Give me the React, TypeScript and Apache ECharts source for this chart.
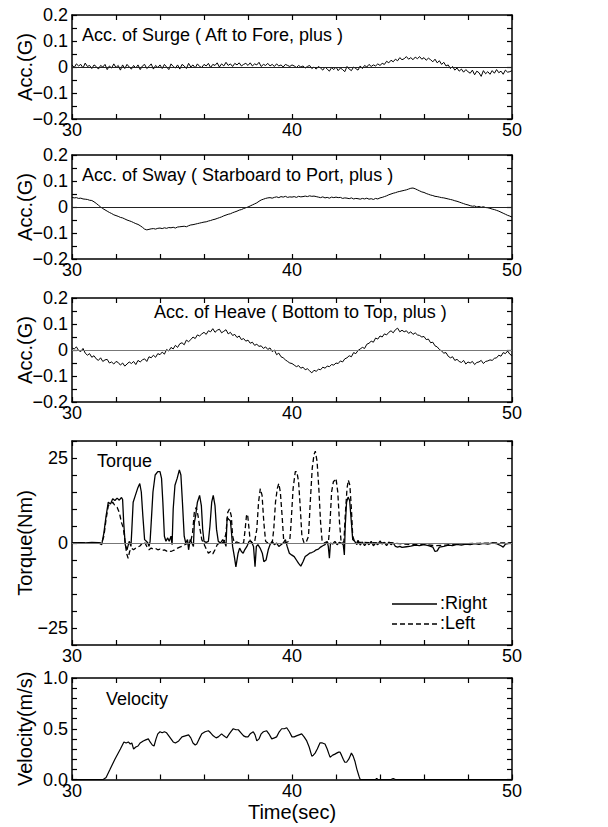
import React, { useEffect, useRef } from "react";
import * as echarts from "echarts";

// ---------- data ----------
const T_START = 30;
const T_STEP = 0.1;

const surge = [
  0.008, -0.002, 0.012, 0.004, 0.010, -0.004, 0.015, 0.002, 0.006, -0.006, 0.008,
  0.002, -0.008, 0.006, 0.000, 0.010, -0.010, 0.004, -0.004, 0.012, -0.002,
  0.006, -0.012, 0.008, -0.006, 0.010, 0.000, -0.008, 0.006, -0.004, 0.008,
  -0.010, 0.004, 0.010, -0.006, 0.002, 0.012, -0.008, 0.006, -0.002, 0.008,
  -0.006, 0.010, 0.000, -0.010, 0.012, 0.002, -0.004, 0.008, -0.008, 0.010,
  0.004, -0.006, 0.014, 0.000, 0.008, -0.004, 0.012, 0.002, -0.002, 0.010,
  0.004, 0.014, -0.002, 0.010, 0.006, 0.016, 0.000, 0.012, 0.004, 0.018,
  0.006, 0.012, 0.002, 0.014, 0.008, 0.016, 0.004, 0.010, 0.014, 0.006,
  0.016, 0.004, 0.012, 0.008, 0.018, 0.002, 0.010, 0.006, 0.014, 0.004,
  0.010, 0.002, 0.012, 0.004, 0.008, 0.000, 0.010, 0.006, 0.002, 0.008,
  0.004, -0.002, 0.006, 0.000, 0.004, -0.004, 0.002, 0.006, -0.006, 0.000,
  -0.008, 0.002, -0.004, -0.012, 0.000, -0.008, -0.016, -0.002, -0.010, 0.000,
  -0.014, -0.004, -0.010, -0.018, 0.002, -0.008, -0.014, 0.000, -0.006, -0.012,
  0.004, -0.006, 0.006, 0.000, 0.010, 0.002, 0.008, 0.004, 0.012, 0.006,
  0.014, 0.010, 0.022, 0.016, 0.026, 0.020, 0.030, 0.024, 0.036, 0.028,
  0.032, 0.040, 0.030, 0.036, 0.028, 0.038, 0.032, 0.040, 0.030, 0.036,
  0.026, 0.034, 0.028, 0.020, 0.030, 0.016, 0.024, 0.010, 0.018, 0.004,
  0.008, -0.006, 0.002, -0.012, -0.004, -0.016, -0.008, -0.020, -0.010, -0.018,
  -0.024, -0.012, -0.030, -0.016, -0.022, -0.036, -0.014, -0.026, -0.018, -0.028,
  -0.014, -0.024, -0.010, -0.022, -0.016, -0.028, -0.012, -0.020, -0.018, -0.014,
];

const sway = [
  0.037, 0.035, 0.036, 0.033, 0.034, 0.031, 0.030, 0.029, 0.026, 0.025, 0.020,
  0.014, 0.007, 0.000, -0.006, -0.011, -0.016, -0.021, -0.025, -0.030, -0.033,
  -0.036, -0.040, -0.042, -0.046, -0.050, -0.053, -0.056, -0.060, -0.064, -0.067,
  -0.072, -0.078, -0.085, -0.088, -0.086, -0.084, -0.083, -0.085, -0.082, -0.081,
  -0.083, -0.080, -0.082, -0.079, -0.080, -0.078, -0.081, -0.077, -0.076, -0.075,
  -0.074, -0.076, -0.072, -0.069, -0.068, -0.066, -0.064, -0.062, -0.060, -0.058,
  -0.057, -0.054, -0.052, -0.049, -0.047, -0.044, -0.041, -0.038, -0.034, -0.031,
  -0.028, -0.026, -0.022, -0.019, -0.016, -0.012, -0.010, -0.006, -0.003, 0.000,
  0.004, 0.008, 0.012, 0.016, 0.022, 0.027, 0.030, 0.033, 0.035, 0.036,
  0.034, 0.037, 0.039, 0.036, 0.040, 0.038, 0.041, 0.037, 0.039, 0.038,
  0.040, 0.037, 0.041, 0.039, 0.040, 0.042, 0.040, 0.043, 0.041, 0.042,
  0.040, 0.038, 0.036, 0.039, 0.035, 0.037, 0.034, 0.038, 0.036, 0.038,
  0.036, 0.037, 0.033, 0.035, 0.034, 0.032, 0.035, 0.031, 0.033, 0.032,
  0.030, 0.033, 0.031, 0.034, 0.030, 0.032, 0.029, 0.033, 0.031, 0.035,
  0.037, 0.040, 0.043, 0.047, 0.050, 0.053, 0.055, 0.058, 0.060, 0.062,
  0.064, 0.066, 0.069, 0.072, 0.073, 0.070, 0.066, 0.062, 0.058, 0.056,
  0.052, 0.049, 0.046, 0.044, 0.041, 0.040, 0.038, 0.036, 0.035, 0.033,
  0.031, 0.029, 0.027, 0.024, 0.022, 0.019, 0.016, 0.013, 0.010, 0.008,
  0.005, 0.003, 0.004, 0.000, 0.002, -0.001, 0.001, -0.002, -0.003, -0.005,
  -0.008, -0.010, -0.013, -0.016, -0.020, -0.024, -0.028, -0.032, -0.035, -0.039,
];

const heave = [
  0.008, 0.004, 0.012, -0.002, -0.006, 0.006, -0.012, -0.020, -0.014, -0.028, -0.022,
  -0.034, -0.040, -0.030, -0.044, -0.038, -0.036, -0.050, -0.046, -0.054, -0.044,
  -0.048, -0.058, -0.050, -0.062, -0.054, -0.046, -0.052, -0.044, -0.056, -0.040,
  -0.046, -0.038, -0.034, -0.044, -0.026, -0.030, -0.020, -0.028, -0.014, -0.018,
  -0.008, -0.016, 0.002, -0.004, 0.010, 0.004, 0.018, 0.010, 0.024, 0.028,
  0.020, 0.038, 0.032, 0.040, 0.050, 0.044, 0.058, 0.054, 0.062, 0.068,
  0.060, 0.074, 0.070, 0.082, 0.068, 0.076, 0.080, 0.066, 0.072, 0.078,
  0.062, 0.068, 0.056, 0.060, 0.048, 0.054, 0.040, 0.044, 0.034, 0.038,
  0.026, 0.030, 0.018, 0.022, 0.014, 0.016, 0.006, 0.012, 0.002, 0.008,
  -0.006, 0.000, -0.018, -0.012, -0.026, -0.030, -0.038, -0.044, -0.050, -0.052,
  -0.058, -0.064, -0.060, -0.070, -0.066, -0.076, -0.072, -0.080, -0.088, -0.078,
  -0.082, -0.074, -0.076, -0.066, -0.070, -0.062, -0.064, -0.056, -0.058, -0.050,
  -0.052, -0.042, -0.046, -0.034, -0.030, -0.022, -0.026, -0.010, -0.014, -0.002,
  0.004, 0.010, 0.006, 0.022, 0.026, 0.034, 0.030, 0.046, 0.042, 0.054,
  0.050, 0.062, 0.058, 0.068, 0.074, 0.066, 0.078, 0.084, 0.070, 0.076,
  0.070, 0.074, 0.064, 0.070, 0.060, 0.066, 0.058, 0.056, 0.050, 0.052,
  0.040, 0.042, 0.028, 0.030, 0.016, 0.012, 0.002, -0.004, -0.012, -0.010,
  -0.024, -0.030, -0.026, -0.040, -0.036, -0.044, -0.048, -0.040, -0.054, -0.046,
  -0.050, -0.044, -0.056, -0.048, -0.046, -0.040, -0.052, -0.044, -0.042, -0.038,
  -0.040, -0.032, -0.030, -0.020, -0.024, -0.010, -0.014, -0.004, -0.016, -0.022,
];

const torqueRight: [number, number][] = [
  [30, 0], [30.3, 0.1], [30.6, 0], [30.9, 0.2], [31.2, 0.1], [31.35, -0.5], [31.45, 3], [31.55, 8], [31.65, 12],
  [31.75, 11.5], [31.85, 13], [31.95, 12.5], [32.05, 13.2], [32.15, 12.6], [32.25, 13.4], [32.3, 12.8], [32.35, 6],
  [32.42, -0.5], [32.5, -2], [32.6, 0.5], [32.68, -1], [32.72, 4], [32.78, 12], [32.88, 14], [32.98, 16], [33.08, 17.5],
  [33.15, 15], [33.22, 8], [33.3, 1], [33.38, 0.5], [33.45, 0], [33.5, -1], [33.55, 0.5], [33.6, 6], [33.68, 15],
  [33.78, 20], [33.9, 21], [34.0, 21], [34.07, 19], [34.13, 12], [34.2, 2], [34.27, 0.5], [34.35, 1.5], [34.42, 0.5],
  [34.5, 2], [34.55, -0.5], [34.6, 10], [34.68, 17], [34.78, 19], [34.88, 21.5], [34.95, 20], [35.02, 12], [35.1, 2],
  [35.17, 0], [35.25, 1], [35.3, -2], [35.37, 1], [35.45, 0], [35.52, -1], [35.56, 6], [35.62, 8], [35.7, 12],
  [35.8, 14], [35.88, 11], [35.94, 4], [36.0, 0.5], [36.1, 0.2], [36.2, 0.5], [36.27, 5], [36.35, 12], [36.42, 14],
  [36.5, 11], [36.57, 4], [36.65, 0.5], [36.75, 0], [36.85, 1], [36.95, 0], [37.0, -1], [37.05, 7.5], [37.12, 7],
  [37.2, 6.5], [37.25, 3], [37.3, -1], [37.38, -4], [37.45, -7], [37.55, -3], [37.62, -1.5], [37.7, -2.5], [37.78, -3],
  [37.85, -2], [37.95, -1], [38.05, 0.5], [38.15, 0.5], [38.25, -1], [38.32, -7], [38.38, -1], [38.45, -0.5],
  [38.55, -1.5], [38.65, -3], [38.72, -5.5], [38.82, -5], [38.92, -2], [39.0, -0.5], [39.1, 0.5], [39.2, -0.5],
  [39.3, 0], [39.4, -1], [39.5, -0.5], [39.6, 0], [39.7, 1], [39.78, -1], [39.88, -3], [39.98, -3.5], [40.1, -4],
  [40.2, -5], [40.3, -6], [40.4, -6.8], [40.5, -5.5], [40.6, -4], [40.7, -3.5], [40.8, -3], [40.9, -2.8], [41.0, -2.5],
  [41.1, -2], [41.2, -1.8], [41.3, -1.2], [41.4, -0.8], [41.5, -0.5], [41.6, 0.5], [41.65, -1], [41.7, -4.5],
  [41.75, 0], [41.85, -0.3], [41.95, 0.5], [42.05, -0.5], [42.15, 0.2], [42.25, 0], [42.33, -0.5], [42.38, -3.5],
  [42.42, 5], [42.48, 12], [42.55, 13.5], [42.62, 12.5], [42.7, 6], [42.76, 1], [42.85, 0.5], [42.95, -0.5],
  [43.0, 0.8], [43.1, -0.6], [43.2, 0.3], [43.3, -0.8], [43.4, 0.2], [43.5, -0.5], [43.6, 0.5], [43.7, -0.8],
  [43.8, 0], [43.9, -0.5], [44.0, 0.6], [44.1, -0.3], [44.2, 0.2], [44.3, -0.8], [44.4, 0.3], [44.5, -0.5],
  [44.6, 0], [44.7, -1], [44.8, -1.2], [44.9, -1], [45.0, -1.3], [45.2, -1.1], [45.4, -0.9], [45.6, -0.6],
  [45.8, -0.8], [46.0, -0.5], [46.2, -0.8], [46.4, -1.2], [46.5, -2.5], [46.6, -2.3], [46.7, -1.2], [46.9, -1],
  [47.1, -0.6], [47.3, -0.8], [47.5, -0.4], [47.7, -0.6], [47.9, -0.3], [48.1, -0.5], [48.3, -0.2], [48.5, -0.4],
  [48.7, -0.1], [48.9, -0.3], [49.1, 0], [49.3, -0.2], [49.5, -0.8], [49.6, -1.2], [49.7, -0.3], [49.9, 0], [50, 0],
];

const torqueLeft: [number, number][] = [
  [30, 0], [30.4, 0.1], [30.8, 0], [31.2, 0.1], [31.35, 0], [31.45, 2], [31.55, 7], [31.65, 11], [31.75, 11.5],
  [31.85, 12], [31.95, 11], [32.05, 10.5], [32.15, 9], [32.25, 6], [32.33, 4.5], [32.4, 1], [32.48, -3], [32.55, -4.5],
  [32.62, -2.5], [32.7, -1.5], [32.8, -2], [32.9, -1.5], [33.0, -1.2], [33.1, -0.8], [33.2, 0], [33.3, 0.2],
  [33.4, -1], [33.5, -2], [33.6, -1.5], [33.7, -1.8], [33.8, -1.6], [33.9, -2], [34.0, -1.8], [34.1, -2.2],
  [34.2, -2], [34.3, -2.4], [34.4, -2.2], [34.5, -2.5], [34.6, -2.2], [34.7, -2], [34.8, -1.5], [34.9, -1.2],
  [35.0, -1], [35.1, -0.6], [35.2, -0.3], [35.3, 0], [35.4, 0.5], [35.48, 3], [35.56, 9], [35.65, 10.5],
  [35.73, 8], [35.82, 4], [35.9, 1], [35.98, 0], [36.05, -1], [36.12, -2], [36.2, -3], [36.3, -2.5], [36.4, -3.2],
  [36.5, -2], [36.6, -0.5], [36.7, 0], [36.8, 0.3], [36.9, 0], [37.0, 3], [37.08, 9], [37.16, 10], [37.24, 8],
  [37.3, 2], [37.38, 0], [37.5, 0.3], [37.6, 0], [37.7, 0.2], [37.8, 0], [37.87, 4], [37.93, 8], [37.98, 8.5],
  [38.05, 4], [38.1, 0.5], [38.2, 0], [38.3, 0.3], [38.4, 4], [38.48, 12], [38.56, 16], [38.64, 14], [38.72, 6],
  [38.8, 0.5], [38.9, 0], [39.0, 0.3], [39.1, 0], [39.17, 4], [39.25, 12], [39.33, 16], [39.4, 17.5], [39.47, 15],
  [39.55, 8], [39.62, 1], [39.7, 0], [39.8, 0.3], [39.9, 0.8], [39.95, 5], [40.05, 16], [40.15, 21], [40.22, 21],
  [40.3, 18], [40.38, 10], [40.45, 2], [40.55, 0], [40.65, 0.3], [40.75, 2], [40.83, 12], [40.92, 22], [41.0, 26],
  [41.06, 27], [41.14, 24], [41.22, 16], [41.3, 6], [41.37, 0.5], [41.45, 0], [41.55, 0.3], [41.65, 0], [41.72, 5],
  [41.8, 15], [41.88, 18], [41.95, 18.5], [42.0, 19], [42.08, 15], [42.16, 6], [42.23, 0.5], [42.3, 0], [42.36, 0.5],
  [42.42, 8], [42.5, 16], [42.56, 18.5], [42.63, 17], [42.7, 10], [42.76, 2], [42.85, 0.3], [43.0, 0.2], [43.5, 0.1],
  [44, 0], [44.5, 0.1], [45, -0.3], [45.5, -0.5], [46, -0.4], [46.5, -0.8], [47, -0.6], [47.5, -0.3], [48, -0.2],
  [48.5, -0.1], [49, 0], [49.5, 0], [50, 0],
];

const velocity: [number, number][] = [
  [30, 0], [31.0, 0], [31.42, 0.0], [31.55, 0.02], [31.73, 0.1], [31.95, 0.2], [32.2, 0.3], [32.36, 0.37],
  [32.46, 0.36], [32.56, 0.37], [32.65, 0.35], [32.72, 0.36], [32.8, 0.3], [32.9, 0.32], [33.0, 0.33], [33.1, 0.36],
  [33.24, 0.38], [33.35, 0.39], [33.47, 0.4], [33.55, 0.37], [33.65, 0.34], [33.73, 0.33], [33.82, 0.4], [33.9, 0.45],
  [34.0, 0.47], [34.1, 0.46], [34.2, 0.47], [34.3, 0.46], [34.4, 0.43], [34.5, 0.4], [34.6, 0.37], [34.7, 0.36],
  [34.85, 0.38], [35.0, 0.42], [35.15, 0.43], [35.3, 0.44], [35.4, 0.41], [35.5, 0.36], [35.6, 0.34], [35.67, 0.35],
  [35.78, 0.4], [35.9, 0.45], [36.05, 0.47], [36.2, 0.48], [36.3, 0.46], [36.42, 0.43], [36.55, 0.41], [36.65, 0.42],
  [36.75, 0.44], [36.8, 0.45], [36.9, 0.43], [37.03, 0.41], [37.15, 0.45], [37.25, 0.48], [37.33, 0.5], [37.45, 0.49],
  [37.56, 0.49], [37.68, 0.46], [37.8, 0.43], [37.9, 0.42], [38.0, 0.42], [38.1, 0.45], [38.24, 0.47], [38.32, 0.44],
  [38.4, 0.38], [38.5, 0.4], [38.6, 0.45], [38.7, 0.47], [38.85, 0.48], [38.95, 0.45], [39.08, 0.4], [39.2, 0.41],
  [39.3, 0.42], [39.42, 0.47], [39.53, 0.5], [39.65, 0.5], [39.76, 0.51], [39.88, 0.47], [40.0, 0.42], [40.1, 0.42],
  [40.2, 0.43], [40.32, 0.44], [40.44, 0.45], [40.55, 0.42], [40.67, 0.38], [40.78, 0.32], [40.9, 0.23], [40.97, 0.24],
  [41.05, 0.26], [41.15, 0.3], [41.27, 0.36], [41.38, 0.36], [41.5, 0.35], [41.6, 0.3], [41.68, 0.25], [41.73, 0.22],
  [41.85, 0.24], [41.95, 0.25], [42.03, 0.26], [42.12, 0.27], [42.18, 0.27], [42.25, 0.24], [42.33, 0.2], [42.4, 0.17],
  [42.48, 0.17], [42.58, 0.2], [42.66, 0.24], [42.7, 0.26], [42.78, 0.23], [42.86, 0.18], [42.95, 0.1], [43.05, 0.03],
  [43.1, 0], [43.8, 0], [43.85, 0.01], [43.9, 0], [44.5, 0], [44.6, 0.01], [44.7, 0], [50, 0],
];

// tick labels
const timeTickValues = [30, 40, 50];
const timeTickTexts = ["30", "40", "50"];
const accTickValues = [-0.2, -0.1, 0, 0.1, 0.2];
const accTickTexts = ["\u22120.2", "\u22120.1", "0", "0.1", "0.2"];
const torqueTickValues = [-25, 0, 25];
const torqueTickTexts = ["\u221225", "0", "25"];
const velTickValues = [0, 0.5, 1.0];
const velTickTexts = ["0.0", "0.5", "1.0"];

const panelTitles = [
  "Acc. of Surge ( Aft to Fore, plus )",
  "Acc. of Sway ( Starboard to Port, plus )",
  "Acc. of Heave ( Bottom to Top, plus )",
  "Torque",
  "Velocity",
];
const yNames = ["Acc.(G)", "Acc.(G)", "Acc.(G)", "Torque(Nm)", "Velocity(m/s)"];
const xName = "Time(sec)";
const legendNames = ["Right", "Left"];

// ---------- helpers ----------
const FONT = "'Liberation Sans', Arial, Helvetica, sans-serif";
const lookup = (vals: number[], texts: string[]) => (v: number) => {
  for (let i = 0; i < vals.length; i++) if (Math.abs(vals[i] - v) < 1e-6) return texts[i];
  return "";
};
const toSeries = (arr: number[]) => arr.map((v, i) => [+(T_START + i * T_STEP).toFixed(2), v]);

export default function App() {
  const ref = useRef<HTMLDivElement>(null);
  useEffect(() => {
    if (!ref.current) return;
    const chart = echarts.init(ref.current, undefined, { renderer: "svg" });

    const grids = [
      { left: 72, top: 15, width: 440, height: 104 },
      { left: 72, top: 155, width: 440, height: 104 },
      { left: 72, top: 298, width: 440, height: 104 },
      { left: 72, top: 441, width: 440, height: 204 },
      { left: 72, top: 678, width: 440, height: 101.5 },
    ];
    const yCfg = [
      { min: -0.2, max: 0.2, interval: 0.05, fmt: lookup(accTickValues, accTickTexts) },
      { min: -0.2, max: 0.2, interval: 0.05, fmt: lookup(accTickValues, accTickTexts) },
      { min: -0.2, max: 0.2, interval: 0.05, fmt: lookup(accTickValues, accTickTexts) },
      { min: -30, max: 30, interval: 5, fmt: lookup(torqueTickValues, torqueTickTexts) },
      { min: 0, max: 1, interval: 0.1, fmt: lookup(velTickValues, velTickTexts) },
    ];
    const axisLine = { show: true, onZero: false, lineStyle: { color: "#000", width: 1.5 } };
    const tick = { show: true, inside: true, length: 5, lineStyle: { color: "#000", width: 1.2 } };
    const xFmt = lookup(timeTickValues, timeTickTexts);

    const xAxis: any[] = [];
    const yAxis: any[] = [];
    grids.forEach((_, i) => {
      xAxis.push({
        type: "value", gridIndex: i, min: 30, max: 50, interval: 2, position: "bottom",
        axisLine, axisTick: tick, splitLine: { show: false },
        axisLabel: { formatter: xFmt, color: "#000", fontSize: 18, fontFamily: FONT, margin: 2 },
        ...(i === 4
          ? { name: xName, nameLocation: "middle", nameGap: 22, nameMoveOverlap: false, nameTextStyle: { color: "#000", fontSize: 20, fontFamily: FONT } }
          : {}),
      });
      xAxis.push({
        type: "value", gridIndex: i, min: 30, max: 50, interval: 2, position: "top",
        axisLine, axisTick: tick, splitLine: { show: false }, axisLabel: { show: false },
      });
      yAxis.push({
        type: "value", gridIndex: i, min: yCfg[i].min, max: yCfg[i].max, interval: yCfg[i].interval, position: "left",
        axisLine, axisTick: tick, splitLine: { show: false },
        axisLabel: { formatter: yCfg[i].fmt, color: "#000", fontSize: 18, fontFamily: FONT, margin: 4 },
        name: yNames[i], nameLocation: "middle", nameGap: 37, nameMoveOverlap: false,
        nameTextStyle: { color: "#000", fontSize: 20, fontFamily: FONT },
      });
      yAxis.push({
        type: "value", gridIndex: i, min: yCfg[i].min, max: yCfg[i].max, interval: yCfg[i].interval, position: "right",
        axisLine, axisTick: tick, splitLine: { show: false }, axisLabel: { show: false },
      });
    });

    const zeroLine = (color: string) => ({
      silent: true, symbol: "none", label: { show: false },
      lineStyle: { color, width: 1.2, type: "solid" },
      data: [{ yAxis: 0 }],
    });
    const base = { type: "line", showSymbol: false, symbol: "none", smooth: false };

    const series: any[] = [
      { ...base, name: "surge", xAxisIndex: 0, yAxisIndex: 0, data: toSeries(surge), lineStyle: { color: "#000", width: 1 }, markLine: zeroLine("#222") },
      { ...base, name: "sway", xAxisIndex: 2, yAxisIndex: 2, data: toSeries(sway), lineStyle: { color: "#000", width: 1 }, markLine: zeroLine("#222") },
      { ...base, name: "heave", xAxisIndex: 4, yAxisIndex: 4, data: toSeries(heave), lineStyle: { color: "#000", width: 1 }, markLine: zeroLine("#777") },
      { ...base, name: legendNames[0], xAxisIndex: 6, yAxisIndex: 6, data: torqueRight, lineStyle: { color: "#000", width: 1.3 }, markLine: zeroLine("#777") },
      { ...base, name: legendNames[1], xAxisIndex: 6, yAxisIndex: 6, data: torqueLeft, lineStyle: { color: "#000", width: 1.3, type: [5, 3] } },
      { ...base, name: "velocity", xAxisIndex: 8, yAxisIndex: 8, data: velocity, lineStyle: { color: "#000", width: 1.2 } },
    ];

    const titlePos = [
      { x: 82, y: 36 },
      { x: 82, y: 176 },
      { x: 154, y: 313 },
      { x: 97, y: 462 },
      { x: 106, y: 700 },
    ];
    const graphic: any[] = panelTitles.map((t, i) => ({
      type: "text", left: titlePos[i].x, top: titlePos[i].y - 10, silent: true,
      style: { text: t, fill: "#000", fontSize: 18, fontFamily: FONT },
    }));
    // legend for the torque panel
    const legendRows = [
      { y: 604, dash: null as any },
      { y: 624, dash: [5, 3] },
    ];
    legendRows.forEach((r, i) => {
      graphic.push({
        type: "line", silent: true,
        shape: { x1: 392, y1: r.y, x2: 437, y2: r.y },
        style: { stroke: "#000", lineWidth: 1.3, lineDash: r.dash },
      });
      graphic.push({
        type: "text", left: 440, top: r.y - 10, silent: true,
        style: { text: ":" + legendNames[i], fill: "#000", fontSize: 18, fontFamily: FONT },
      });
    });

    chart.setOption({
      animation: false,
      backgroundColor: "#fff",
      grid: grids,
      xAxis, yAxis, series, graphic,
    });
    return () => chart.dispose();
  }, []);
  return <div ref={ref} style={{ position: "absolute", left: 0, top: 0, width: 608, height: 827, background: "#fff" }} />;
}
